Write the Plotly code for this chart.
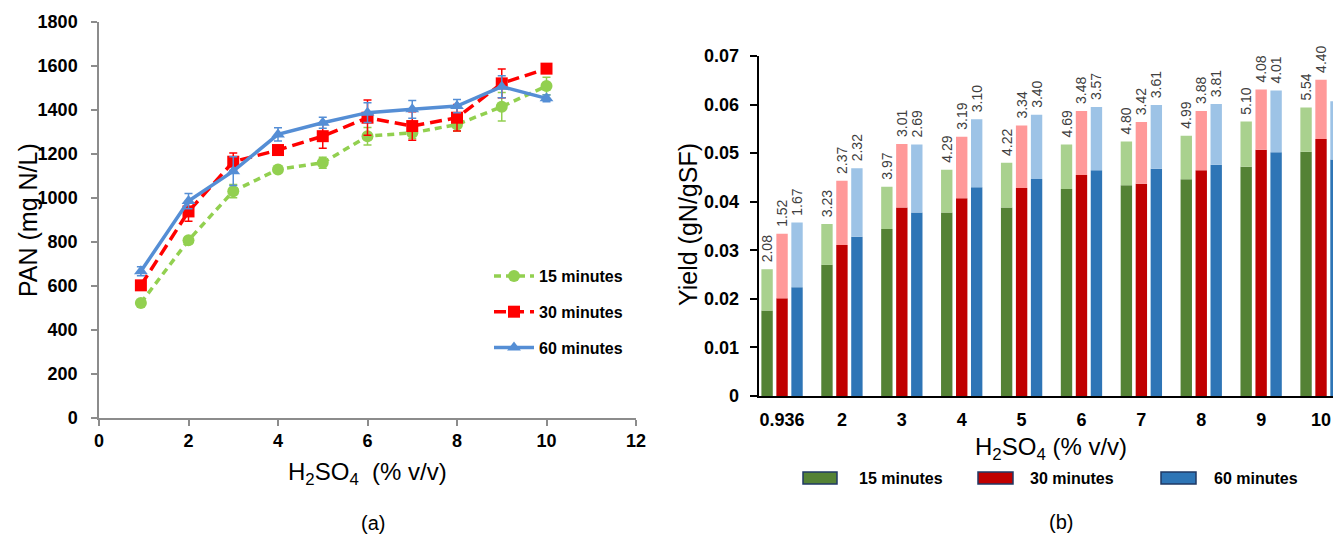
import plotly.graph_objects as go

# ---------------- data: panel (a) ----------------
acid_a = [0.936, 2, 3, 4, 5, 6, 7, 8, 9, 10]
pan_15 = [523, 808, 1031, 1130, 1160, 1281, 1296, 1334, 1415, 1509]
pan_30 = [603, 939, 1165, 1218, 1281, 1365, 1327, 1365, 1521, 1588]
pan_60 = [667, 986, 1122, 1289, 1342, 1388, 1403, 1418, 1506, 1453]
err_15 = [15, 15, 30, 15, 25, 40, 25, 30, 65, 40]
err_30 = [20, 45, 40, 20, 55, 80, 65, 60, 65, 20]
err_60 = [20, 35, 65, 30, 25, 45, 40, 30, 50, 15]

# ---------------- data: panel (b) ----------------
acid_b = ["0.936", "2", "3", "4", "5", "6", "7", "8", "9", "10"]
dark_15 = [0.0176, 0.0270, 0.0344, 0.0378, 0.0388, 0.0426, 0.0434, 0.0446, 0.0472, 0.0503]
total_15 = [0.0261, 0.0354, 0.0431, 0.0466, 0.0480, 0.0518, 0.0524, 0.0536, 0.0565, 0.0594]
dark_30 = [0.0201, 0.0311, 0.0388, 0.0407, 0.0428, 0.0455, 0.0437, 0.0465, 0.0507, 0.0529]
total_30 = [0.0334, 0.0443, 0.0519, 0.0534, 0.0557, 0.0587, 0.0564, 0.0587, 0.0631, 0.0651]
dark_60 = [0.0224, 0.0328, 0.0378, 0.0430, 0.0447, 0.0465, 0.0468, 0.0476, 0.0502, 0.0487]
total_60 = [0.0357, 0.0469, 0.0518, 0.0570, 0.0579, 0.0595, 0.0599, 0.0601, 0.0629, 0.0607]
lab_15 = ["2.08", "3.23", "3.97", "4.29", "4.22", "4.69", "4.80", "4.99", "5.10", "5.54"]
lab_30 = ["1.52", "2.37", "3.01", "3.19", "3.34", "3.48", "3.42", "3.88", "4.08", "4.40"]
lab_60 = ["1.67", "2.32", "2.69", "3.10", "3.40", "3.57", "3.61", "3.81", "4.01", "4.85"]

series_names = ["15 minutes", "30 minutes", "60 minutes"]

FONT = "Liberation Sans, Arial, sans-serif"
FONT_B = "Liberation Sans, Arial, sans-serif"

fig = go.Figure()

# ---- panel (a) lines ----
line_specs = [
    (pan_15, err_15, "#92D050", "circle", "7px,5px"),
    (pan_30, err_30, "#FF0000", "square", "12px,6px"),
    (pan_60, err_60, "#558ED5", "triangle-up", "solid"),
]
for i, (vals, errs, col, sym, dash) in enumerate(line_specs):
    fig.add_trace(go.Scatter(
        x=acid_a, y=vals, name=series_names[i], mode="lines+markers",
        line=dict(color=col, width=3.5, dash=dash),
        marker=dict(color=col, symbol=sym, size=12),
        error_y=dict(type="data", array=errs, color=col, thickness=1.5, width=4),
        xaxis="x", yaxis="y", legend="legend", legendgroup=f"g{i}",
        showlegend=True,
    ))

# ---- panel (b) stacked/grouped bars ----
xpos = list(range(len(acid_b)))
bar_specs = [
    (dark_15, total_15, lab_15, "#548235", "#A9D18E"),
    (dark_30, total_30, lab_30, "#C00000", "#FF9999"),
    (dark_60, total_60, lab_60, "#2E75B6", "#9DC3E6"),
]
BW = 0.19
for i, (dk, tot, lab, cdark, clight) in enumerate(bar_specs):
    off = (i - 1) * 0.25 - BW / 2
    upper = [t - d for t, d in zip(tot, dk)]
    fig.add_trace(go.Bar(
        x=xpos, y=dk, base=0, width=BW, offset=off,
        marker=dict(color=cdark, line=dict(width=0)),
        xaxis="x2", yaxis="y2", showlegend=False, name=series_names[i],
    ))
    fig.add_trace(go.Bar(
        x=xpos, y=upper, base=dk, width=BW, offset=off,
        marker=dict(color=clight, line=dict(width=0)),
        text=["\u00a0" + s for s in lab], textposition="outside", textangle=-90,
        textfont=dict(family=FONT, size=14, color="#404040"),
        constraintext="none", cliponaxis=False,
        xaxis="x2", yaxis="y2", showlegend=False, name=series_names[i] + " ",
    ))

W, H = 1333, 535
def px(x):
    return x / W
def py(y):
    return 1 - y / H

fig.update_layout(
    width=W, height=H, margin=dict(l=0, r=0, t=0, b=0, autoexpand=False),
    paper_bgcolor="white", plot_bgcolor="white",
    barmode="overlay",
    font=dict(family=FONT, color="black"),
    xaxis=dict(
        domain=[px(99), px(636)], range=[0, 12], tickvals=[0, 2, 4, 6, 8, 10, 12],
        showgrid=False, zeroline=False, showline=True, linecolor="#8C8C8C", linewidth=1.5,
        ticks="outside", ticklen=6, tickcolor="#8C8C8C", tickwidth=1.5,
        tickfont=dict(family=FONT_B, size=18, color="black", weight="bold"),
        anchor="y", automargin=False,
    ),
    yaxis=dict(
        domain=[py(418), py(22)], range=[0, 1800], dtick=200,
        showgrid=False, zeroline=False, showline=True, linecolor="#8C8C8C", linewidth=1.5,
        ticks="outside", ticklen=6, tickcolor="#8C8C8C", tickwidth=1.5,
        tickfont=dict(family=FONT_B, size=18, color="black", weight="bold"),
        ticklabelstandoff=10, anchor="x", automargin=False,
    ),
    xaxis2=dict(
        domain=[px(758.7), 1.0], range=[-0.39, 9.2],
        tickvals=xpos, ticktext=acid_b,
        showgrid=False, zeroline=False, showline=True, linecolor="black", linewidth=2,
        ticks="", tickfont=dict(family=FONT_B, size=18, color="black", weight="bold"),
        ticklabelstandoff=6, anchor="y2", automargin=False,
    ),
    yaxis2=dict(
        domain=[py(396), py(56)], range=[0, 0.07], dtick=0.01,
        tickformat=".2~f",
        showgrid=False, zeroline=False, showline=True, linecolor="black", linewidth=2,
        ticks="outside", ticklen=7, tickcolor="black", tickwidth=1.5,
        tickfont=dict(family=FONT_B, size=18, color="black", weight="bold"),
        ticklabelstandoff=7, anchor="x2", automargin=False,
    ),
    legend=dict(
        x=px(489), y=py(259), xanchor="left", yanchor="top",
        bgcolor="rgba(0,0,0,0)", traceorder="grouped", tracegroupgap=12,
        font=dict(family=FONT_B, size=16, color="black", weight="bold"),
        itemwidth=40,
    ),
)

ann = []
ann.append(dict(text="PAN (mg N/L)", x=px(28), y=py(220), textangle=-90,
                font=dict(family=FONT, size=25, color="black")))
ann.append(dict(text="Yield (gN/gSF)", x=px(688), y=py(225), textangle=-90,
                font=dict(family=FONT, size=25, color="black")))
ann.append(dict(text="H<sub>2</sub>SO<sub>4</sub>  (% v/v)", x=px(367), y=py(473),
                font=dict(family=FONT, size=24, color="black")))
ann.append(dict(text="H<sub>2</sub>SO<sub>4</sub> (% v/v)", x=px(1051), y=py(448),
                font=dict(family=FONT, size=24, color="black")))
ann.append(dict(text="(a)", x=px(373), y=py(523), font=dict(family=FONT, size=20, color="black")))
ann.append(dict(text="(b)", x=px(1061), y=py(522), font=dict(family=FONT, size=20, color="black")))

shapes = []
leg_boxes = [(803, 837, "#548235"), (978, 1013, "#C00000"), (1161, 1196, "#2E75B6")]
leg_text_x = [857, 1028, 1212]
for (x0, x1, col), tx, nm in zip(leg_boxes, leg_text_x, series_names):
    shapes.append(dict(type="rect", xref="paper", yref="paper",
                       x0=px(x0), x1=px(x1), y0=py(484), y1=py(472),
                       fillcolor=col, line=dict(color="#1F3864", width=1.5)))
    ann.append(dict(text=nm, x=px(tx), y=py(478), xanchor="left",
                    font=dict(family=FONT_B, size=16, color="black", weight="bold")))

for a in ann:
    a.setdefault("xref", "paper")
    a.setdefault("yref", "paper")
    a.setdefault("showarrow", False)
    a.setdefault("xanchor", "center")
    a.setdefault("yanchor", "middle")

fig.update_layout(annotations=ann, shapes=shapes)

fig.write_html(
    "out.html",
    config={"displayModeBar": False},
    post_script="document.body.style.margin='0';document.body.style.padding='0';"
                "document.body.style.overflow='hidden';",
)
